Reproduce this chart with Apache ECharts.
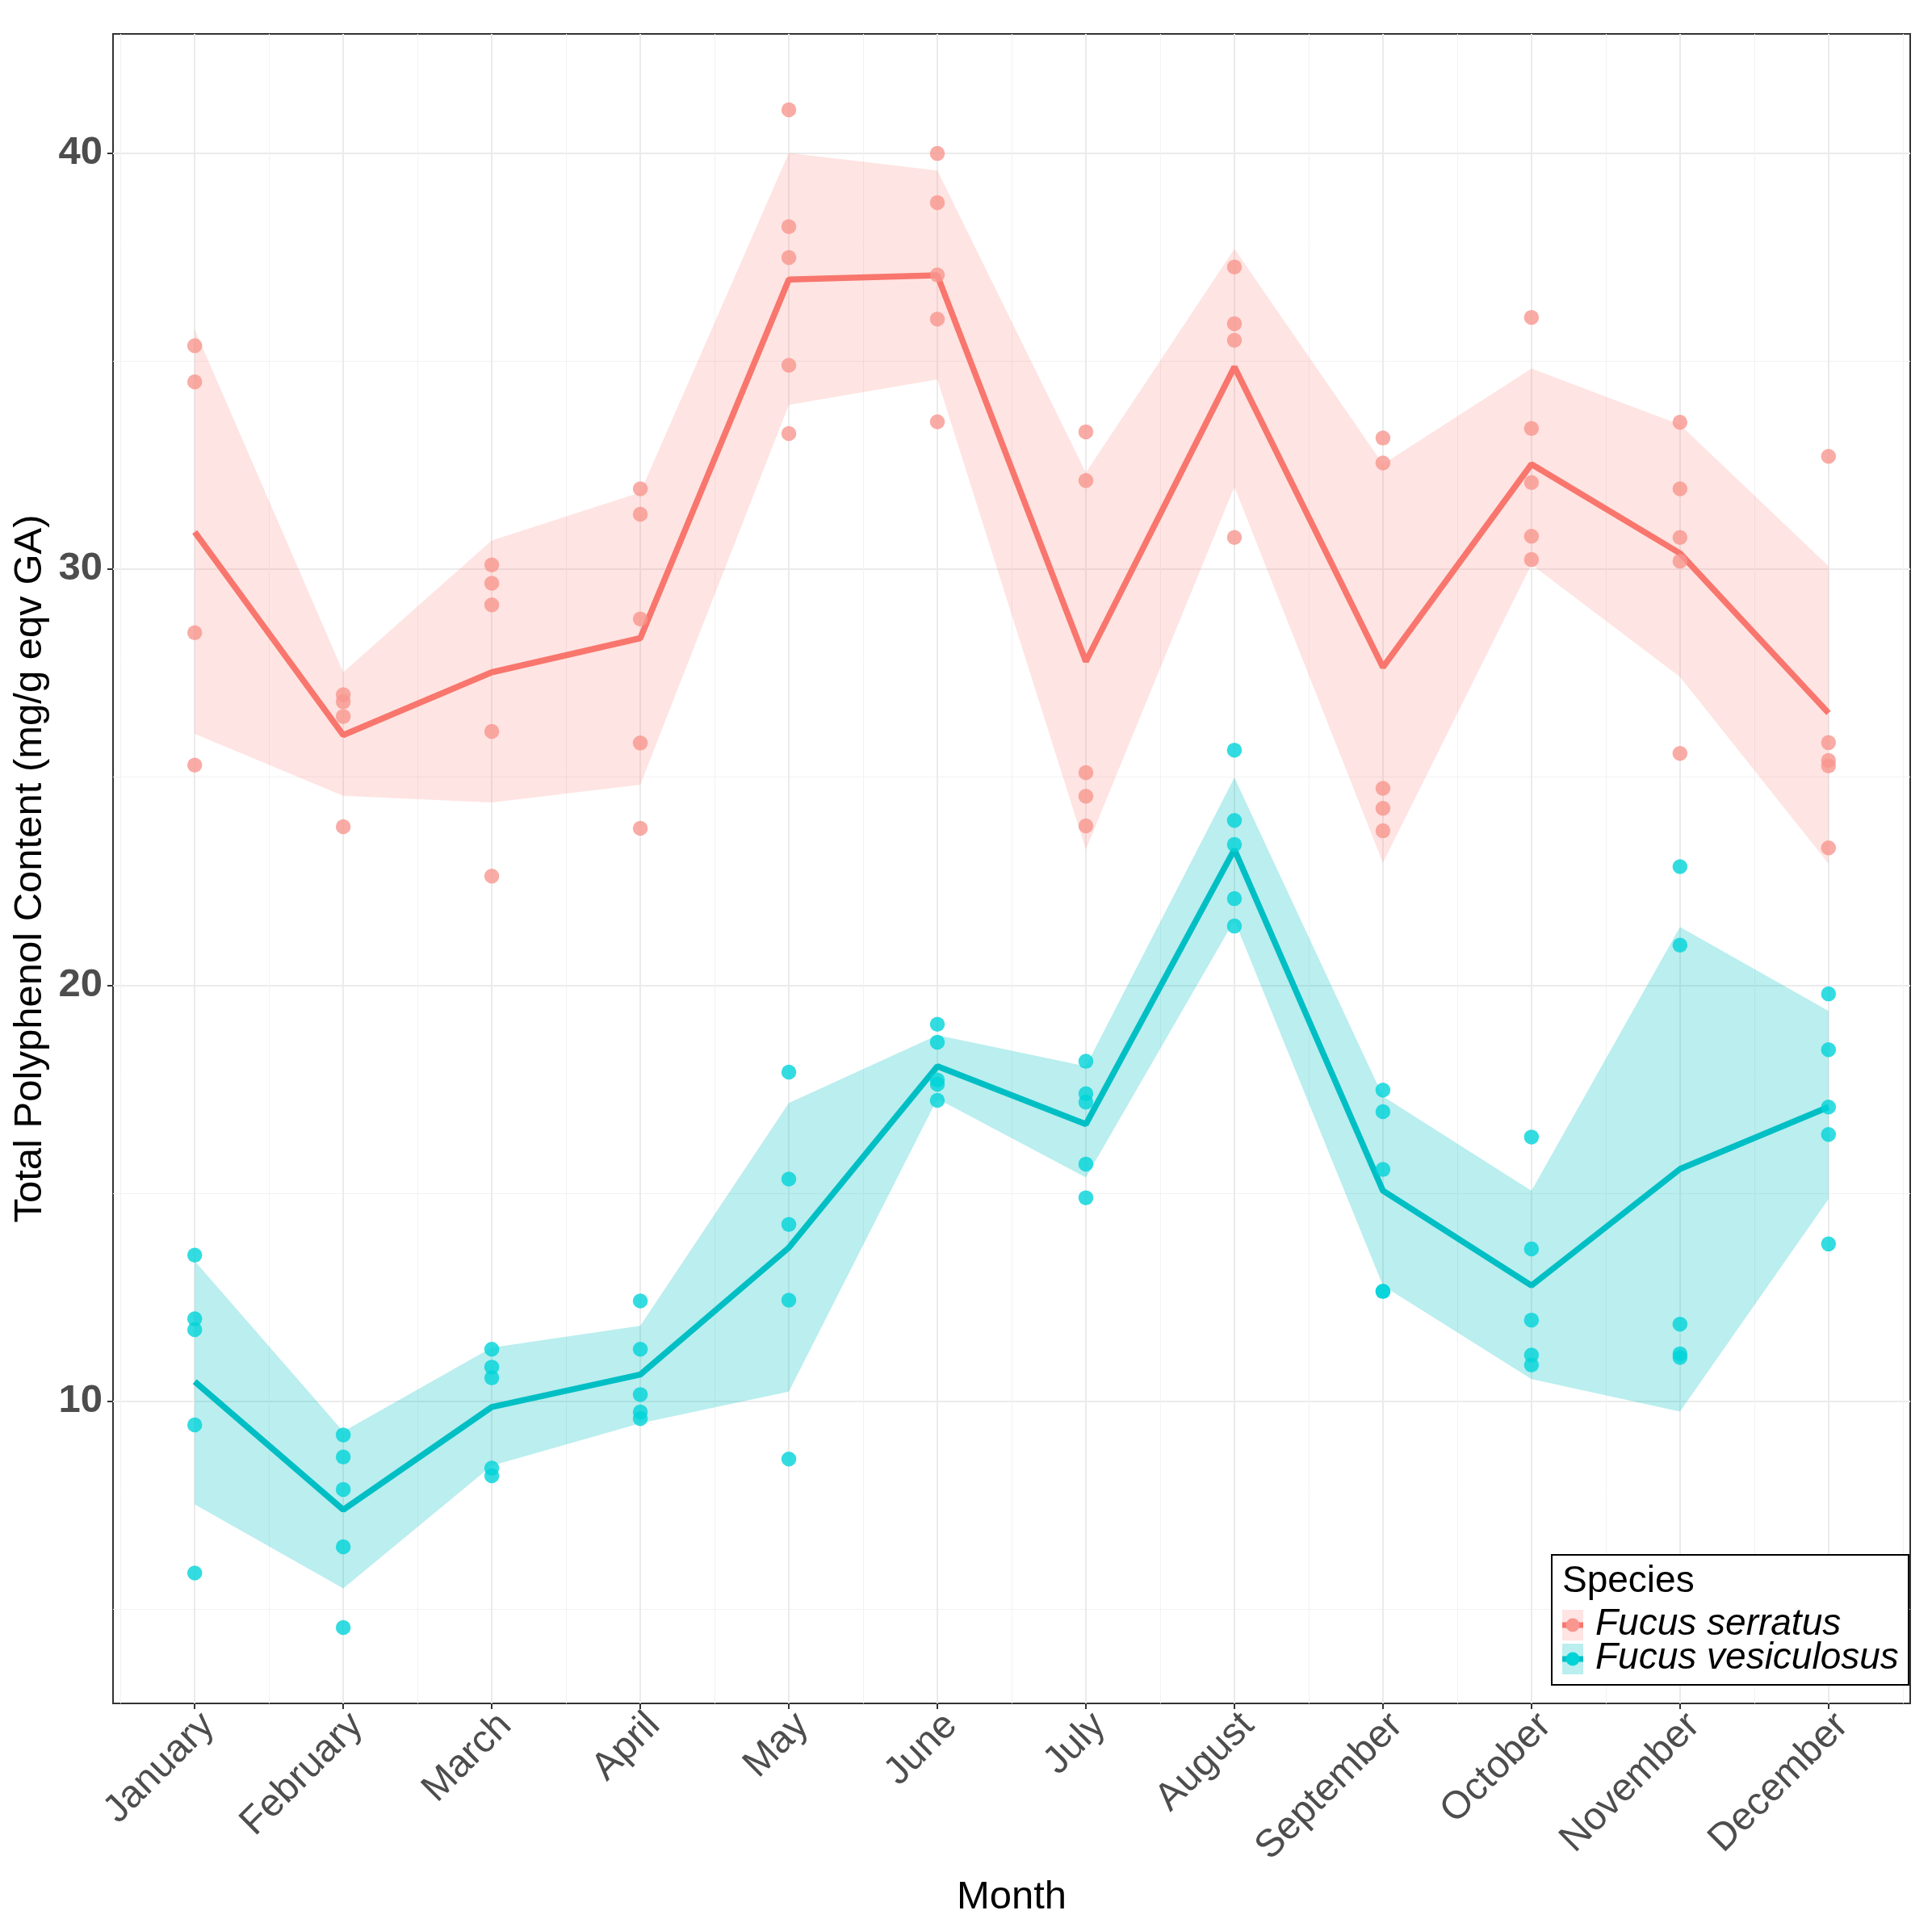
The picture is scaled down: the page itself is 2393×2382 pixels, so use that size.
<!DOCTYPE html>
<html>
<head>
<meta charset="utf-8">
<title>Total Polyphenol Content by Month</title>
<script src="https://cdn.jsdelivr.net/npm/echarts@6.0.0/dist/echarts.min.js"></script>
<style>
  html, body { margin: 0; padding: 0; background: #fff; }
  #chart { width: 2393px; height: 2382px; }
</style>
</head>
<body>
<div id="chart"></div>
<script>
var months = ['January', 'February', 'March', 'April', 'May', 'June',
  'July', 'August', 'September', 'October', 'November', 'December'];
var monthTicks = [0, 1, 2, 3, 4, 5, 6, 7, 8, 9, 10, 11];
var halfMonthTicks = [-0.5, 0.5, 1.5, 2.5, 3.5, 4.5, 5.5, 6.5, 7.5, 8.5, 9.5, 10.5, 11.5];
var yTicks = [10, 20, 30, 40];
var yMinorTicks = [5, 15, 25, 35];

// Fucus serratus: replicate measurements per month
var serratusPoints = [
  [35.37, 34.50, 28.47, 25.29],
  [26.98, 26.81, 26.46, 23.81],
  [30.10, 29.66, 29.14, 26.10, 22.62],
  [31.93, 31.32, 28.80, 25.82, 23.77],
  [41.04, 38.23, 37.49, 34.90, 33.26],
  [39.99, 38.81, 37.07, 36.01, 33.54],
  [33.30, 32.13, 25.11, 24.54, 23.83],
  [37.26, 35.90, 35.50, 30.76],
  [33.15, 32.55, 24.73, 24.25, 23.71],
  [36.05, 33.38, 32.08, 30.79, 30.23],
  [33.53, 31.93, 30.76, 30.19, 25.57],
  [32.71, 25.83, 25.40, 25.27, 23.30]
];
var serratusMean  = [30.89, 26.01, 27.52, 28.34, 36.96, 37.06, 27.78, 34.86, 27.64, 32.52, 30.38, 26.54];
var serratusLower = [26.04, 24.55, 24.39, 24.82, 33.95, 34.56, 23.26, 31.98, 22.94, 30.11, 27.41, 22.92];
var serratusUpper = [35.76, 27.52, 30.69, 31.84, 40.00, 39.58, 32.32, 37.70, 32.52, 34.82, 33.47, 30.07];

// Fucus vesiculosus
var vesiculosusPoints = [
  [13.51, 11.98, 11.72, 9.43, 5.87],
  [9.19, 8.66, 7.88, 6.50, 4.56],
  [11.25, 10.82, 10.56, 8.39, 8.21],
  [12.41, 11.25, 10.16, 9.74, 9.58],
  [17.91, 15.34, 14.25, 12.43, 8.61],
  [19.06, 18.63, 17.72, 17.62, 17.23],
  [18.17, 17.39, 17.19, 15.70, 14.89],
  [25.65, 23.96, 23.38, 22.08, 21.42],
  [17.48, 16.96, 15.57, 12.64, 12.64],
  [16.35, 13.66, 11.95, 11.11, 10.87],
  [22.85, 20.96, 11.85, 11.14, 11.05],
  [19.79, 18.45, 17.07, 16.41, 13.78]
];
var vesiculosusMean  = [10.47, 7.39, 9.86, 10.64, 13.69, 18.05, 16.66, 23.26, 15.06, 12.78, 15.58, 17.07];
var vesiculosusLower = [7.52, 5.50, 8.45, 9.47, 10.23, 17.27, 15.38, 21.56, 12.78, 10.53, 9.75, 14.86];
var vesiculosusUpper = [13.37, 9.27, 11.29, 11.81, 17.17, 18.80, 18.05, 24.99, 17.33, 15.06, 21.40, 19.38];

var FONT = 'Liberation Sans, Arial, sans-serif';
var RED = '#F8766D', CYAN = '#00BFC4';
var RED_PT = '#F8968F', CYAN_PT = '#00D3D8';
var RED_FILL = 'rgba(248,118,109,0.2)', CYAN_FILL = 'rgba(0,191,196,0.27)';

function flatPoints(arr) {
  var out = [];
  arr.forEach(function (vals, i) {
    vals.forEach(function (v) { out.push([i, v]); });
  });
  return out;
}
function meanLine(arr) {
  return arr.map(function (v, i) { return [i, v]; });
}
function ribbon(lower, upper, fill) {
  return {
    type: 'custom',
    xAxisIndex: 0, yAxisIndex: 0,
    clip: true,
    silent: true,
    data: [0],
    renderItem: function (params, api) {
      var pts = [];
      for (var i = 0; i < upper.length; i++) pts.push(api.coord([i, upper[i]]));
      for (var j = lower.length - 1; j >= 0; j--) pts.push(api.coord([j, lower[j]]));
      return { type: 'polygon', shape: { points: pts }, style: { fill: fill } };
    }
  };
}

var chart = echarts.init(document.getElementById('chart'));
var option = {
  animation: false,
  backgroundColor: '#ffffff',
  grid: {
    left: 140, right: 27, top: 42, bottom: 272,
    show: true, borderColor: '#333333', borderWidth: 2, backgroundColor: 'transparent'
  },
  xAxis: [{
    type: 'value', min: -0.55, max: 11.55,
    name: 'Month', nameLocation: 'middle', nameGap: 216,
    nameTextStyle: { fontSize: 49, color: '#000', fontFamily: FONT },
    axisLine: { show: false, onZero: false },
    axisTick: { show: true, length: 7, customValues: monthTicks, lineStyle: { color: '#333333', width: 2 } },
    axisLabel: {
      customValues: monthTicks,
      formatter: function (v) { return months[Math.round(v)]; },
      rotate: 45, align: 'right', verticalAlign: 'top', margin: 3,
      fontSize: 48, color: '#4D4D4D', fontFamily: FONT
    },
    splitLine: { show: true, lineStyle: { color: '#EBEBEB', width: 2 } }
  }, {
    type: 'value', min: -0.55, max: 11.55,
    axisLine: { show: false, onZero: false },
    axisTick: { show: false, customValues: halfMonthTicks },
    axisLabel: { show: false },
    splitLine: { show: true, lineStyle: { color: '#F2F2F2', width: 1 } }
  }],
  yAxis: [{
    type: 'value', min: 2.736, max: 42.864,
    name: 'Total Polyphenol Content (mg/g eqv GA)', nameLocation: 'middle', nameGap: 73,
    nameTextStyle: { fontSize: 49, color: '#000', fontFamily: FONT },
    axisLine: { show: false, onZero: false },
    axisTick: { show: true, length: 7, customValues: yTicks, lineStyle: { color: '#333333', width: 2 } },
    axisLabel: {
      customValues: yTicks, margin: 13,
      fontSize: 49, fontWeight: 'bold', color: '#4D4D4D', fontFamily: FONT
    },
    splitLine: { show: true, lineStyle: { color: '#EBEBEB', width: 2 } }
  }, {
    type: 'value', min: 2.736, max: 42.864,
    axisLine: { show: false, onZero: false },
    axisTick: { show: false, customValues: yMinorTicks },
    axisLabel: { show: false },
    splitLine: { show: true, lineStyle: { color: '#F2F2F2', width: 1 } }
  }],
  series: [
    ribbon(serratusLower, serratusUpper, RED_FILL),
    ribbon(vesiculosusLower, vesiculosusUpper, CYAN_FILL),
    {
      name: 'Fucus serratus', type: 'line', data: meanLine(serratusMean),
      showSymbol: false, lineStyle: { color: RED, width: 7.5 }, z: 3
    },
    {
      name: 'Fucus vesiculosus', type: 'line', data: meanLine(vesiculosusMean),
      showSymbol: false, lineStyle: { color: CYAN, width: 7.5 }, z: 3
    },
    {
      type: 'scatter', data: flatPoints(serratusPoints), symbolSize: 18.5,
      itemStyle: { color: RED_PT }, z: 4
    },
    {
      type: 'scatter', data: flatPoints(vesiculosusPoints), symbolSize: 18.5,
      itemStyle: { color: CYAN_PT }, z: 4
    }
  ],
  // legend drawn by hand to get the ggplot key (ribbon + line + point)
  graphic: [
    { type: 'rect', z: 100, shape: { x: 1922, y: 1926, width: 442, height: 161 },
      style: { fill: '#fff', stroke: '#000', lineWidth: 2 } },
    { type: 'text', z: 101, style: { x: 1935, y: 1959, text: 'Species', fontSize: 46,
      fontFamily: FONT, fill: '#000', verticalAlign: 'middle' } },
    { type: 'rect', z: 101, shape: { x: 1935, y: 1994, width: 26, height: 38 }, style: { fill: RED_FILL } },
    { type: 'line', z: 102, shape: { x1: 1935, y1: 2013, x2: 1961, y2: 2013 }, style: { stroke: RED, lineWidth: 7 } },
    { type: 'circle', z: 103, shape: { cx: 1948, cy: 2013, r: 8.5 }, style: { fill: RED_PT } },
    { type: 'text', z: 101, style: { x: 1976, y: 2012, text: 'Fucus serratus', fontSize: 46,
      fontStyle: 'italic', fontFamily: FONT, fill: '#000', verticalAlign: 'middle' } },
    { type: 'rect', z: 101, shape: { x: 1935, y: 2036, width: 26, height: 38 }, style: { fill: CYAN_FILL } },
    { type: 'line', z: 102, shape: { x1: 1935, y1: 2055, x2: 1961, y2: 2055 }, style: { stroke: CYAN, lineWidth: 7 } },
    { type: 'circle', z: 103, shape: { cx: 1948, cy: 2055, r: 8.5 }, style: { fill: CYAN_PT } },
    { type: 'text', z: 101, style: { x: 1976, y: 2054, text: 'Fucus vesiculosus', fontSize: 46,
      fontStyle: 'italic', fontFamily: FONT, fill: '#000', verticalAlign: 'middle' } }
  ]
};
chart.setOption(option);
</script>
</body>
</html>
